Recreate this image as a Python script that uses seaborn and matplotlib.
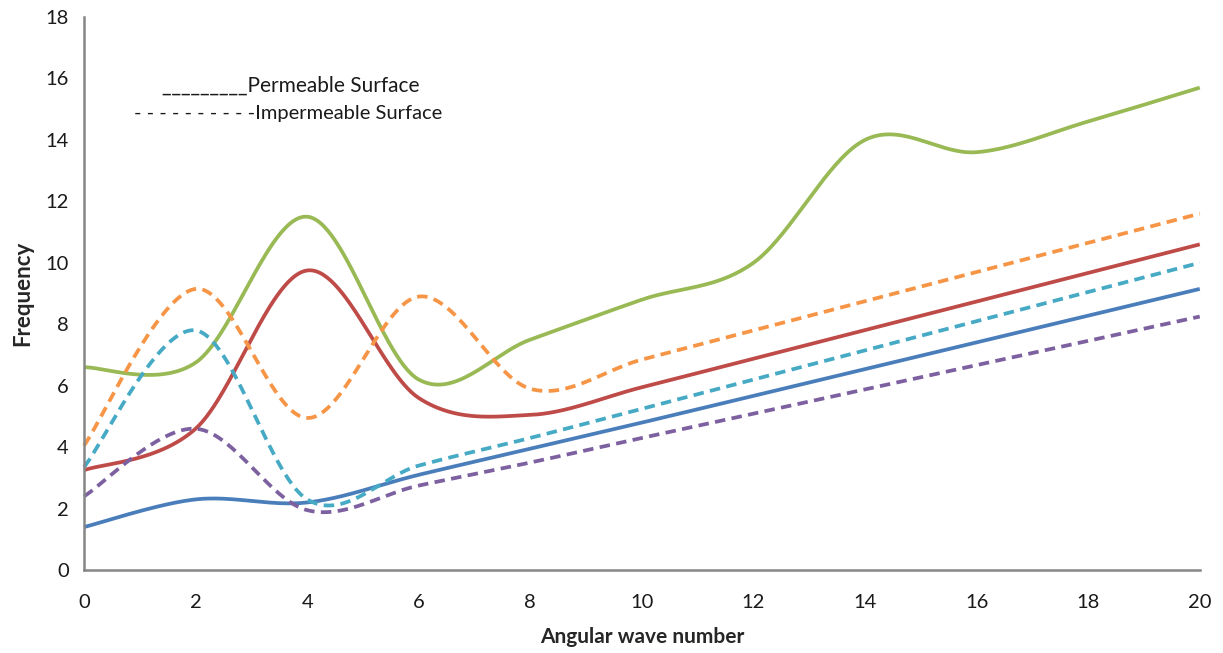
import numpy as np
import pandas as pd
import matplotlib
matplotlib.use("Agg")
import matplotlib.pyplot as plt
import seaborn as sns

# ---- data ----
wave_number = [0, 2, 4, 6, 8, 10, 12, 14, 16, 18, 20]
perm_blue = [1.4, 2.3, 2.2, 3.1, 3.95, 4.8, 5.67, 6.54, 7.41, 8.28, 9.15]
perm_red = [3.25, 4.6, 9.75, 5.6, 5.05, 5.95, 6.88, 7.81, 8.74, 9.67, 10.6]
perm_green = [6.6, 6.75, 11.5, 6.2, 7.5, 8.8, 10.0, 14.0, 13.6, 14.6, 15.7]
imp_purple = [2.4, 4.6, 1.95, 2.75, 3.5, 4.3, 5.09, 5.88, 6.67, 7.46, 8.25]
imp_cyan = [3.35, 7.8, 2.3, 3.4, 4.3, 5.25, 6.2, 7.15, 8.1, 9.05, 10.0]
imp_orange = [4.05, 9.15, 4.95, 8.9, 5.9, 6.85, 7.8, 8.75, 9.7, 10.65, 11.6]

x_ticks = [0, 2, 4, 6, 8, 10, 12, 14, 16, 18, 20]
y_ticks = [0, 2, 4, 6, 8, 10, 12, 14, 16, 18]


def smooth(xs, ys, n=60):
    """Excel-like smoothed line (Catmull-Rom Bezier)."""
    P = np.column_stack([xs, ys]).astype(float)
    pts = []
    m = len(P)
    for i in range(m - 1):
        p0 = P[i]
        p3 = P[i + 1]
        prev = P[i - 1] if i > 0 else P[i]
        nxt = P[i + 2] if i + 2 < m else P[i + 1]
        c1 = p0 + (p3 - prev) / 6.0
        c2 = p3 - (nxt - p0) / 6.0
        t = np.linspace(0, 1, n, endpoint=(i == m - 2))[:, None]
        seg = ((1 - t) ** 3) * p0 + 3 * ((1 - t) ** 2) * t * c1 + 3 * (1 - t) * t ** 2 * c2 + t ** 3 * p3
        pts.append(seg)
    pts = np.vstack(pts)
    return pts[:, 0], pts[:, 1]


sns.set_theme(style="white")
plt.rcParams["font.family"] = ["Lato", "DejaVu Sans"]

fig = plt.figure(figsize=(12.23, 6.53), dpi=100)
ax = fig.add_axes([0.0687, 0.127, 0.9123, 0.847])

series = [
    (perm_blue, "#4A7EBB", None),
    (perm_red, "#BE4B48", None),
    (perm_green, "#98B954", None),
    (imp_purple, "#7D60A0", (2.8, 1.7)),
    (imp_cyan, "#46AAC5", (2.8, 1.7)),
    (imp_orange, "#F69546", (2.8, 1.7)),
]

for ys, col, dash in series:
    sx, sy = smooth(wave_number, ys)
    df = pd.DataFrame({"x": sx, "y": sy})
    n_before = len(ax.lines)
    sns.lineplot(data=df, x="x", y="y", ax=ax, color=col, linewidth=2.7,
                 sort=False, estimator=None)
    line = ax.lines[n_before]
    if dash is not None:
        line.set_dashes(dash)
    line.set_solid_capstyle("butt")
    line.set_clip_on(False)

ax.set_xlim(0, 20)
ax.set_ylim(0, 18)
ax.set_xticks(x_ticks)
ax.set_yticks(y_ticks)
ax.set_xticklabels([str(v) for v in x_ticks])
ax.set_yticklabels([str(v) for v in y_ticks])

for side in ["top", "right"]:
    ax.spines[side].set_visible(False)
for side in ["left", "bottom"]:
    ax.spines[side].set_color("#868686")
    ax.spines[side].set_linewidth(1.8)

ax.tick_params(axis="both", which="major", direction="out", length=6,
               width=1.2, color="#868686", labelsize=14.5, labelcolor="#1a1a1a")
ax.tick_params(axis="x", pad=11)
ax.tick_params(axis="y", pad=5)

ax.set_xlabel("Angular wave number", fontsize=15, fontweight="bold", labelpad=12)
ax.set_ylabel("Frequency", fontsize=16, fontweight="bold", labelpad=9)

fig.text(162 / 1223, 1 - 86 / 653, "_________Permeable Surface", fontsize=15,
         va="center", ha="left", color="#1a1a1a")
fig.text(134 / 1223, 1 - 113 / 653, "- - - - - - - - - -Impermeable Surface", fontsize=14.5,
         va="center", ha="left", color="#1a1a1a")

fig.savefig("out.png", dpi=100)
